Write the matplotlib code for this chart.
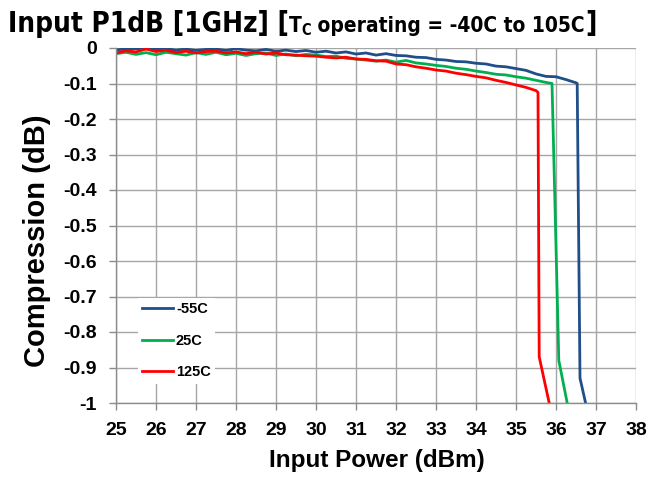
import matplotlib
matplotlib.use("Agg")
import matplotlib.pyplot as plt
import numpy as np

# ---------------- data ----------------
x_m55 = [25.00, 25.25, 25.50, 25.75, 26.00, 26.25, 26.50, 26.75, 27.00, 27.25, 27.50, 27.75,
         28.00, 28.25, 28.50, 28.75, 29.00, 29.25, 29.50, 29.75, 30.00, 30.25, 30.50, 30.75,
         31.00, 31.25, 31.50, 31.75, 32.00, 32.25, 32.50, 32.75, 33.00, 33.25, 33.50, 33.75,
         34.00, 34.25, 34.50, 34.75, 35.00, 35.25, 35.50, 35.75, 36.00, 36.25, 36.50, 36.53,
         36.60, 36.74]
y_m55 = [-0.005, -0.003, -0.002, -0.001, -0.004, -0.002, -0.006, -0.003, -0.007, -0.004, -0.003, -0.007,
         -0.002, -0.006, -0.008, -0.004, -0.009, -0.006, -0.010, -0.007, -0.012, -0.009, -0.014, -0.011,
         -0.017, -0.014, -0.020, -0.016, -0.021, -0.022, -0.026, -0.027, -0.032, -0.034, -0.038, -0.039,
         -0.043, -0.045, -0.051, -0.053, -0.058, -0.063, -0.073, -0.080, -0.081, -0.089, -0.098, -0.100,
         -0.930, -1.000]

x_25 = [25.00, 25.25, 25.50, 25.75, 26.00, 26.25, 26.50, 26.75, 27.00, 27.25, 27.50, 27.75,
        28.00, 28.25, 28.50, 28.75, 29.00, 29.25, 29.50, 29.75, 30.00, 30.25, 30.50, 30.75,
        31.00, 31.25, 31.50, 31.75, 32.00, 32.25, 32.50, 32.75, 33.00, 33.25, 33.50, 33.75,
        34.00, 34.25, 34.50, 34.75, 35.00, 35.25, 35.50, 35.75, 35.90, 36.07, 36.28]
y_25 = [-0.016, -0.012, -0.018, -0.013, -0.019, -0.012, -0.016, -0.020, -0.013, -0.018, -0.012, -0.019,
        -0.015, -0.021, -0.016, -0.014, -0.021, -0.017, -0.022, -0.018, -0.020, -0.024, -0.023, -0.029,
        -0.031, -0.034, -0.037, -0.034, -0.040, -0.035, -0.042, -0.045, -0.049, -0.052, -0.057, -0.060,
        -0.065, -0.069, -0.074, -0.076, -0.081, -0.085, -0.091, -0.097, -0.100, -0.880, -1.000]

x_125 = [25.00, 25.25, 25.50, 25.75, 26.00, 26.25, 26.50, 26.75, 27.00, 27.25, 27.50, 27.75,
         28.00, 28.25, 28.50, 28.75, 29.00, 29.25, 29.50, 29.75, 30.00, 30.25, 30.50, 30.75,
         31.00, 31.25, 31.50, 31.75, 32.00, 32.25, 32.50, 32.75, 33.00, 33.25, 33.50, 33.75,
         34.00, 34.25, 34.50, 34.75, 35.00, 35.25, 35.50, 35.55, 35.58, 35.83]
y_125 = [-0.014, -0.008, -0.011, -0.003, -0.010, -0.006, -0.013, -0.009, -0.014, -0.010, -0.009, -0.014,
         -0.011, -0.016, -0.012, -0.017, -0.014, -0.019, -0.020, -0.022, -0.023, -0.026, -0.028, -0.026,
         -0.031, -0.032, -0.036, -0.037, -0.045, -0.047, -0.053, -0.057, -0.062, -0.065, -0.071, -0.075,
         -0.080, -0.084, -0.091, -0.097, -0.104, -0.111, -0.120, -0.125, -0.870, -1.000]

labels = ["-55C", "25C", "125C"]
colors = ["#1F4E89", "#00B050", "#FF0000"]

x_ticks = list(range(25, 39))
y_ticks = [0, -0.1, -0.2, -0.3, -0.4, -0.5, -0.6, -0.7, -0.8, -0.9, -1]
y_tick_labels = ["0", "-0.1", "-0.2", "-0.3", "-0.4", "-0.5", "-0.6", "-0.7", "-0.8", "-0.9", "-1"]

# ---------------- figure ----------------
W, H = 650, 483
fig = plt.figure(figsize=(W / 100, H / 100), dpi=100)
ax = fig.add_axes([116 / W, 1 - 403 / H, 520 / W, 355 / H])

tick_font = dict(family="Liberation Sans", weight="bold", size=14)

for xs, ys, lab, c in zip([x_m55, x_25, x_125], [y_m55, y_25, y_125], labels, colors):
    ax.plot(xs, ys, color=c, lw=2.0, label=lab, solid_joinstyle="round")

ax.set_xlim(25, 38)
ax.set_ylim(-1, 0)
ax.set_xticks(x_ticks)
ax.set_xticklabels([str(t) for t in x_ticks], fontdict=tick_font)
ax.set_yticks(y_ticks)
ax.set_yticklabels(y_tick_labels, fontdict=tick_font)
ax.tick_params(axis="both", direction="out", length=5, width=1, color="#8C8C8C", pad=9)

ax.grid(True, color="#A6A6A6", lw=1)
ax.set_axisbelow(True)
for s in ["top", "right"]:
    ax.spines[s].set_visible(False)
for s in ["left", "bottom"]:
    ax.spines[s].set_color("#8C8C8C")
    ax.spines[s].set_linewidth(1)

ax.set_xlabel("Input Power (dBm)", family="Liberation Sans", weight="bold", size=17.5)
ax.xaxis.set_label_coords((376.5 - 116) / 520, (403 - 461) / 355)
ax.xaxis.label.set_va("center")
ax.set_ylabel("Compression (dB)", family="Liberation Sans", weight="bold", size=21)
ax.yaxis.set_label_coords((37 - 116) / 520, (403 - 241) / 355)
ax.yaxis.label.set_va("center")

leg = ax.legend(loc="upper left", bbox_to_anchor=((138 - 116) / 520, (403 - 298) / 355),
                frameon=True, facecolor="white", edgecolor="none", framealpha=1,
                prop=dict(family="Liberation Sans", weight="bold", size=10.5),
                handlelength=2.1, handletextpad=0.2, labelspacing=1.2,
                borderpad=0.3, borderaxespad=0, fancybox=False)

# ---------------- title (multi-size pieces) ----------------
fig.canvas.draw()
renderer = fig.canvas.get_renderer()
tfam = "DejaVu Sans"
base_y = 1 - 32 / H
pieces = [
    ("Input P1dB [1GHz] [", 20, 0),
    ("T", 15, 0),
    ("C", 10.5, -3),
    (" operating = -40C to 105C", 15, 0),
    ("]", 20, 0),
]
xpix = 8
for txt, sz, dy in pieces:
    t = fig.text(xpix / W, base_y + dy / H, txt, family=tfam, weight="bold", size=sz,
                 ha="left", va="baseline", stretch="condensed")
    bb = t.get_window_extent(renderer=renderer)
    xpix = bb.x1

fig.savefig("out.png", dpi=100)
